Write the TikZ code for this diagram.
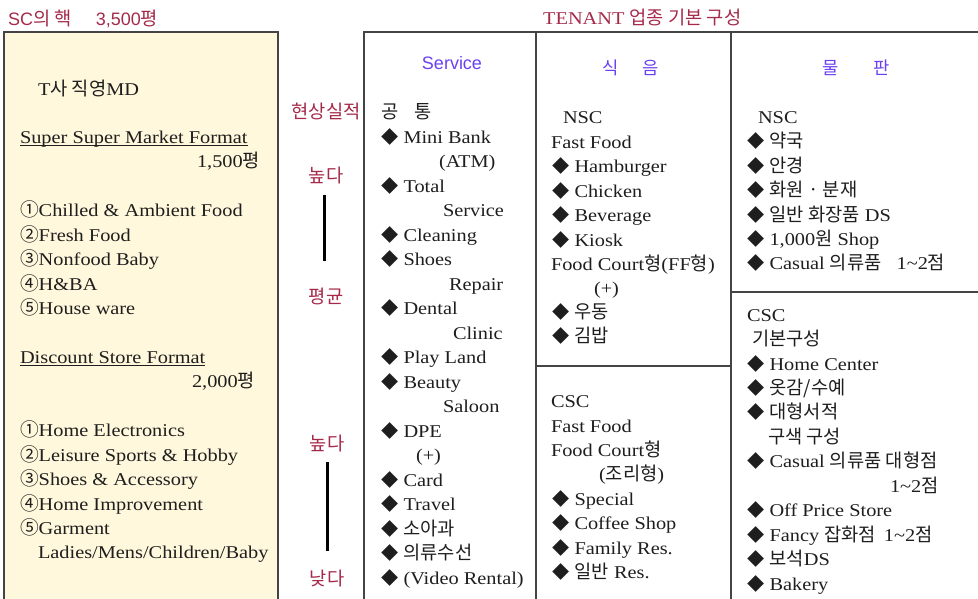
\documentclass[tikz,border=0pt]{standalone}
\usepackage{fontspec}
\setmainfont{Liberation Serif}[FakeStretch=1.13]
\newfontfamily\krf{Noto Sans CJK KR}[Scale=1.04]
\newfontfamily\sansf{Liberation Sans}
\definecolor{titred}{HTML}{A52A4A}
\definecolor{hdblue}{HTML}{6A40F0}
\definecolor{boxfill}{HTML}{FFF8DC}
\definecolor{boxline}{HTML}{444444}
\definecolor{ink}{HTML}{1E1E1E}
\newcommand\K[1]{{\krf #1}}
\newcommand\dmd{\makebox[22.5pt][l]{\fontsize{16.5}{20}\krf ◆}}
\newcommand\tl[4]{\node[txt] (#1) at (#2,#3) {#4};}
\newcommand\itm[4]{\node[txt] (#1) at (#2,#3) {\dmd #4};}
\begin{document}
\begin{tikzpicture}[x=1pt,y=-1pt,
  txt/.style={anchor=base west, inner sep=0pt, outer sep=0pt, text=ink, font=\fontsize{18}{22}\selectfont},
  txtr/.style={txt, anchor=base east},
  redlbl/.style={anchor=center, inner sep=0pt, text=titred, font=\fontsize{18}{22}\selectfont\krf},
  head/.style={anchor=center, inner sep=0pt, text=hdblue, font=\fontsize{18}{22}\selectfont},
  frame/.style={draw=boxline, line width=1.2pt},
  gauge/.style={line width=3pt, draw=black},
  uline/.style={draw=ink, line width=0.8pt}]
\useasboundingbox (0,0) rectangle (978,598);
\begin{scope}
  \clip (0,0) rectangle (978,598);
  \path[frame, fill=boxfill] (4,32) rectangle (278,620);
  \path[frame] (364,32) rectangle (536,620);
  \path[frame] (536,32) rectangle (731,620);
  \path[frame] (731,32) rectangle (1000,620);
  \draw[frame] (536,366) -- (731,366);
  \draw[frame] (731,292) -- (1000,292);
\end{scope}

% titles
\node[anchor=base west, inner sep=0pt, text=titred, font=\fontsize{18}{22}\sansf] (sctitle) at (8,25) {SC\K{의 핵}\hspace{24pt}3,500\K{평}};
\node[anchor=base west, inner sep=0pt, text=titred, font=\fontsize{18}{22}\selectfont] (tntitle) at (543,24) {TENANT \K{업종 기본 구성}};

% left panel
\tl{tmd}{38}{95}{T\K{사 직영}MD}
\tl{ssm}{20}{143}{Super Super Market Format}
\draw[uline] ([yshift=-2pt]ssm.base west) -- ([yshift=-2pt]ssm.base east);
\node[txtr] (ssmarea) at (260,167) {1,500\K{평}};
\tl{l1}{20}{216}{\K{①}Chilled \& Ambient Food}
\tl{l2}{20}{241}{\K{②}Fresh Food}
\tl{l3}{20}{265}{\K{③}Nonfood Baby}
\tl{l4}{20}{290}{\K{④}H\&BA}
\tl{l5}{20}{314}{\K{⑤}House ware}
\tl{dsf}{20}{363}{Discount Store Format}
\draw[uline] ([yshift=-2pt]dsf.base west) -- ([yshift=-2pt]dsf.base east);
\node[txtr] (dsfarea) at (255,387) {2,000\K{평}};
\tl{d1}{20}{436}{\K{①}Home Electronics}
\tl{d2}{20}{461}{\K{②}Leisure Sports \& Hobby}
\tl{d3}{20}{485}{\K{③}Shoes \& Accessory}
\tl{d4}{20}{510}{\K{④}Home Improvement}
\tl{d5}{20}{534}{\K{⑤}Garment}
\tl{d5b}{38}{558}{Ladies/Mens/Children/Baby}

% red gauge labels
\node[redlbl] (perf) at (326,111) {현상실적};
\node[redlbl] (hi1) at (326,175) {높다};
\node[redlbl] (avg) at (326,296) {평균};
\node[redlbl] (hi2) at (327,443) {높다};
\node[redlbl] (lo) at (327,578) {낮다};
\coordinate (g1a) at (324.5,195);
\coordinate (g1b) at (324.5,261);
\coordinate (g2a) at (327.5,462);
\coordinate (g2b) at (327.5,551);
\draw[gauge] (g1a) -- (g1b);
\draw[gauge] (g2a) -- (g2b);

% Service column
\node[head, font=\fontsize{18}{22}\sansf] (svh) at (452,63) {Service};
\tl{sv0}{381}{118}{\K{공\hspace{16pt}통}}
\itm{sv1}{381}{143}{Mini Bank}
\tl{sv1b}{439}{167}{(ATM)}
\itm{sv2}{381}{192}{Total}
\tl{sv2b}{443}{216}{Service}
\itm{sv3}{381}{241}{Cleaning}
\itm{sv4}{381}{265}{Shoes}
\tl{sv4b}{449}{290}{Repair}
\itm{sv5}{381}{314}{Dental}
\tl{sv5b}{453}{339}{Clinic}
\itm{sv6}{381}{363}{Play Land}
\itm{sv7}{381}{388}{Beauty}
\tl{sv7b}{443}{412}{Saloon}
\itm{sv8}{381}{437}{DPE}
\tl{sv8b}{416}{461}{(+)}
\itm{sv9}{381}{486}{Card}
\itm{sv10}{381}{510}{Travel}
\itm{sv11}{381}{535}{\K{소아과}}
\itm{sv12}{381}{559}{\K{의류수선}}
\itm{sv13}{381}{584}{(Video Rental)}

% Food column
\node[head, font=\fontsize{17}{22}\krf] (fdh) at (631,68) {식\hspace{24pt}음};
\tl{fn0}{563}{123}{NSC}
\tl{fn1}{551}{148}{Fast Food}
\itm{fn2}{552}{172}{Hamburger}
\itm{fn3}{552}{197}{Chicken}
\itm{fn4}{552}{221}{Beverage}
\itm{fn5}{552}{246}{Kiosk}
\tl{fn6}{551}{270}{Food Court\K{형}(FF\K{형})}
\tl{fn6b}{594}{294}{(+)}
\itm{fn7}{552}{318}{\K{우동}}
\itm{fn8}{552}{342}{\K{김밥}}
\tl{fc0}{551}{407}{CSC}
\tl{fc1}{551}{432}{Fast Food}
\tl{fc2}{551}{456}{Food Court\K{형}}
\tl{fc2b}{599}{480}{(\K{조리형})}
\itm{fc3}{552}{505}{Special}
\itm{fc4}{552}{529}{Coffee Shop}
\itm{fc5}{552}{554}{Family Res.}
\itm{fc6}{552}{578}{\K{일반} Res.}

% Merchandise column
\node[head, font=\fontsize{17}{22}\krf] (mdh) at (856,68) {물\hspace{34pt}판};
\tl{mn0}{758}{123}{NSC}
\itm{mn1}{747}{147}{\K{약국}}
\itm{mn2}{747}{172}{\K{안경}}
\itm{mn3}{747}{196}{\K{화원 · 분재}}
\itm{mn4}{747}{221}{\K{일반 화장품} DS}
\itm{mn5}{747}{245}{1,000\K{원} Shop}
\itm{mn6}{747}{269}{Casual \K{의류품}\hspace{15pt}1\textasciitilde 2\K{점}}
\tl{mc0}{747}{321}{CSC}
\tl{mc1}{752}{345}{\K{기본구성}}
\itm{mc2}{747}{370}{Home Center}
\itm{mc3}{747}{394}{\K{옷감/수예}}
\itm{mc4}{747}{418}{\K{대형서적}}
\tl{mc4b}{768}{443}{\K{구색 구성}}
\itm{mc5}{747}{467}{Casual \K{의류품 대형점}}
\tl{mc5b}{890}{492}{1\textasciitilde 2\K{점}}
\itm{mc6}{747}{516}{Off Price Store}
\itm{mc7}{747}{541}{Fancy \K{잡화점}\hspace{8pt}1\textasciitilde 2\K{점}}
\itm{mc8}{747}{565}{\K{보석}DS}
\itm{mc9}{747}{590}{Bakery}
\end{tikzpicture}
\end{document}
